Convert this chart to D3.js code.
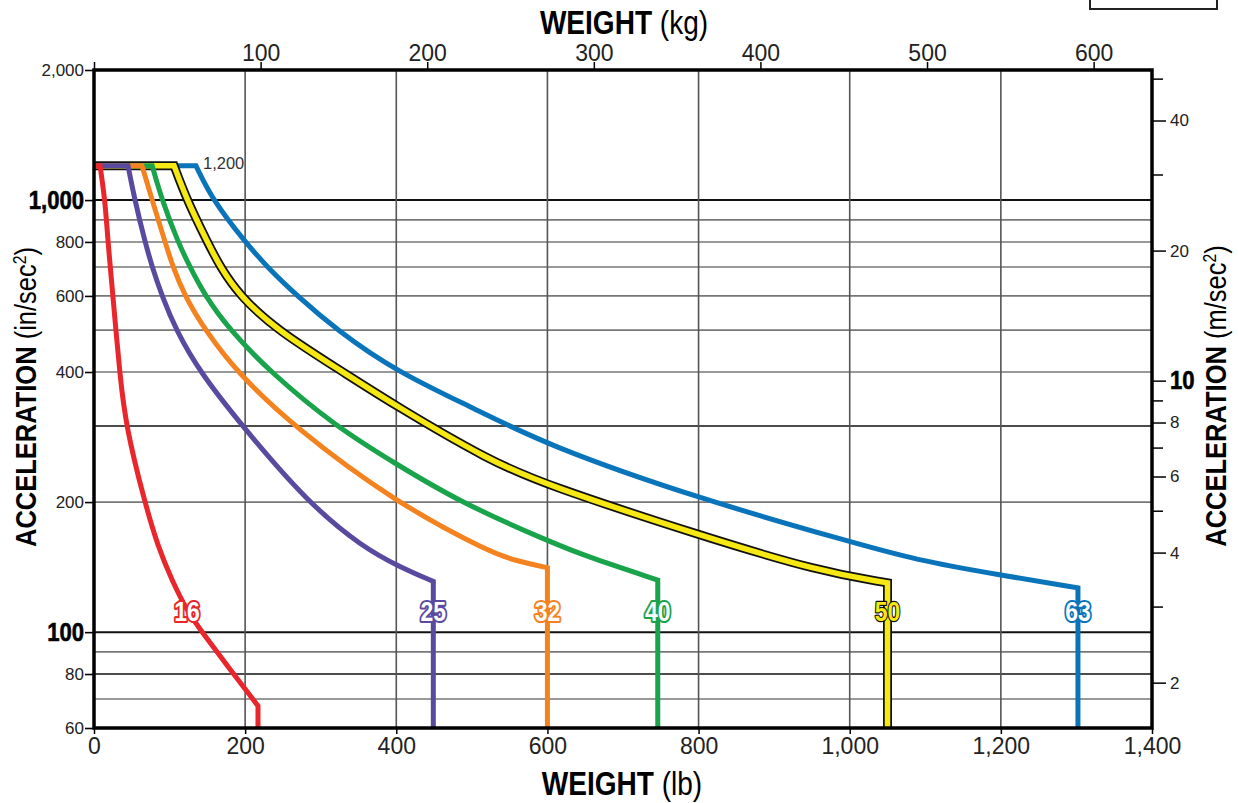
<!DOCTYPE html>
<html>
<head>
<meta charset="utf-8">
<script src="https://cdn.jsdelivr.net/npm/d3@7"></script>
<style>
  html, body { margin: 0; padding: 0; background: #fff; }
  svg { display: block; }
  text { font-family: "Liberation Sans", Arial, Helvetica, sans-serif; }
</style>
</head>
<body>
<svg id="chart" width="1238" height="803"></svg>
<script>
// ---- DATA (weight in lb, acceleration in in/sec^2) ----
const seriesNames = ["16", "25", "32", "40", "50", "63"];
const seriesColors = ["#e8262b", "#5a4a9f", "#f4821f", "#19a34b", "#f6e812", "#0a74bb"];

const curve16 = [[0,1200],[8,1200],[14.6,1000],[18.5,800],[25,600],[29,500],[34,400],[42,300],[67,200],[85,157],[103,132],[123,112],[143,100],[180,82],[217,67.5],[217,60]];
const curve25 = [[0,1200],[45,1200],[54,1000],[67.5,800],[77,700],[90,600],[108.5,500],[140,400],[196,300],[282,200],[356,157],[405,141.5],[449,131],[449,60]];
const curve32 = [[0,1200],[63.5,1200],[77,1000],[94,800],[104.5,700],[120,600],[147,500],[189,400],[263,300],[398,200],[524,153],[560,146],[600,141],[600,60]];
const curve40 = [[0,1200],[77,1200],[90,1000],[111,800],[127,700],[147,600],[180,500],[233,400],[319,300],[398,246],[484,200],[599,163],[650,150],[746,132],[746,60]];
const curve50 = [[0,1200],[106,1200],[123,1000],[150,800],[167,700],[193,600],[242,500],[329.5,400],[398,335],[524,249],[599,219],[799,168],[961,138],[1050,130],[1050,60]];
const curve63 = [[0,1200],[135,1200],[157,1000],[200,800],[229,700],[269,600],[321.5,500],[401,400],[507,327],[599,271],[799,204],[1000,162],[1086,147],[1200,135.5],[1302,126.6],[1302,60]];
const curves = [curve16, curve25, curve32, curve40, curve50, curve63];

const labelWeights = [123, 449, 600, 746, 1050, 1302];
const labelAccel = 112;

const lbTicks = [0, 200, 400, 600, 800, 1000, 1200, 1400];
const kgTicks = [0, 100, 200, 300, 400, 500, 600];
const inTicks = [60, 80, 100, 200, 400, 600, 800, 1000, 2000];
const inBoldTicks = [100, 1000];
const gridAccel = [70, 80, 90, 100, 200, 300, 400, 500, 600, 700, 800, 900, 1000];
const gridDark = [80, 100, 300, 1000];
const msTicks = [2, 3, 4, 5, 6, 7, 8, 9, 10, 20, 30, 40, 50];
const msLabelled = [2, 4, 6, 8, 10, 20, 40];
const msBold = [10];
const capAccel = 1200;
const LB_PER_KG = 2.20462;
const INS2_PER_MS2 = 38.2;

// ---- LAYOUT ----
const L = 94, R = 1152, T = 70, B = 728;
const NARROW = 0.85;
const svg = d3.select("#chart");

const x = d3.scaleLinear().domain([0, 1400]).range([L, R]);
const xKg = d3.scaleLinear().domain([0, 1400 / LB_PER_KG]).range([L, R]);
const y = d3.scaleLog().domain([60, 2000]).range([B, T]);
const yMs = d3.scaleLog().domain([60 / INS2_PER_MS2, 2000 / INS2_PER_MS2]).range([B, T]);

// horizontally condense a text element around its x position
function condense(sel, sx) {
  sel.each(function () {
    const t = d3.select(this);
    const x0 = +t.attr("x") || 0;
    t.attr("x", 0).attr("transform", `translate(${x0},0) scale(${sx},1)`);
  });
}

// grid
const grid = svg.append("g");
grid.selectAll("line.h").data(gridAccel).join("line")
  .attr("x1", L).attr("x2", R)
  .attr("y1", d => y(d)).attr("y2", d => y(d))
  .attr("stroke", d => gridDark.includes(d) ? "#111" : "#777")
  .attr("stroke-width", d => (d === 100 || d === 1000) ? 2 : 1.6);
grid.selectAll("line.v").data(lbTicks.filter(d => d > 0 && d < 1400)).join("line")
  .attr("x1", d => x(d)).attr("x2", d => x(d))
  .attr("y1", T).attr("y2", B)
  .attr("stroke", "#555").attr("stroke-width", 1.6);

// curves: straight cap, smooth decay, vertical drop
const lin = d3.line().x(d => x(d[0])).y(d => y(d[1])).curve(d3.curveLinear);
const smooth = d3.line().x(d => x(d[0])).y(d => y(d[1])).curve(d3.curveBasis);
function pathFor(pts) {
  const n = pts.length;
  const head = lin(pts.slice(0, 2));
  const mid = smooth(pts.slice(1, n - 1)).replace(/^M/, "L");
  const tail = lin(pts.slice(n - 2)).replace(/^M[^L]*/, "");
  return head + mid + tail;
}
const order = [5, 4, 3, 2, 1, 0];
const cg = svg.append("g").attr("fill", "none").attr("stroke-linejoin", "miter").attr("stroke-miterlimit", 10);
order.forEach(i => {
  const dStr = pathFor(curves[i]);
  if (seriesNames[i] === "50") {
    cg.append("path").attr("d", dStr).attr("stroke", "#111").attr("stroke-width", 9);
  }
  cg.append("path").attr("d", dStr).attr("stroke", seriesColors[i]).attr("stroke-width", seriesNames[i] === "50" ? 5.5 : 5);
});

// series labels
const lg = svg.append("g");
seriesNames.forEach((nm, i) => {
  const isY = nm === "50";
  lg.append("text")
    .attr("x", x(labelWeights[i])).attr("y", y(labelAccel) + 10)
    .attr("text-anchor", "middle")
    .attr("font-size", 27).attr("font-weight", "bold")
    .attr("fill", isY ? seriesColors[i] : "#fff")
    .attr("stroke", isY ? "#111" : seriesColors[i])
    .attr("stroke-width", isY ? 2.4 : 4.2)
    .attr("paint-order", "stroke")
    .attr("stroke-linejoin", "round")
    .text(nm)
    .call(condense, NARROW);
});

// cap annotation
svg.append("text")
  .attr("x", 203).attr("y", y(capAccel) + 3)
  .attr("font-size", 16.5).attr("fill", "#333")
  .text(d3.format(",")(capAccel));

// frame
svg.append("rect").attr("x", L).attr("y", T).attr("width", R - L).attr("height", B - T)
  .attr("fill", "none").attr("stroke", "#000").attr("stroke-width", 3.5);

// bottom axis (lb)
const axB = svg.append("g").attr("transform", `translate(0,${B})`)
  .call(d3.axisBottom(x).tickValues(lbTicks).tickFormat(d3.format(",")).tickSize(6).tickPadding(4));
axB.select(".domain").remove();
axB.selectAll("line").attr("stroke", "#000").attr("stroke-width", 1.5);
axB.selectAll("text").attr("font-size", 23).attr("fill", "#222").attr("dy", "0.7em");

// top axis (kg)
const axT = svg.append("g").attr("transform", `translate(0,${T})`)
  .call(d3.axisTop(xKg).tickValues(kgTicks).tickFormat(d => d === 0 ? "" : d).tickSize(8).tickPadding(1));
axT.select(".domain").remove();
axT.selectAll("line").attr("stroke", "#000").attr("stroke-width", 1.5);
axT.selectAll("text").attr("font-size", 23).attr("fill", "#222");

// left axis (in/sec^2)
const axL = svg.append("g").attr("transform", `translate(${L},0)`)
  .call(d3.axisLeft(y).tickValues(inTicks).tickFormat(d3.format(",")).tickSize(9).tickPadding(1));
axL.select(".domain").remove();
axL.selectAll("line").attr("stroke", "#000").attr("stroke-width", 1.6);
axL.selectAll("text")
  .attr("font-size", d => inBoldTicks.includes(d) ? 26 : 17)
  .attr("font-weight", d => inBoldTicks.includes(d) ? "bold" : "normal")
  .attr("fill", d => inBoldTicks.includes(d) ? "#000" : "#222");
axL.selectAll("text").filter(d => inBoldTicks.includes(d))
  .attr("stroke", "#000").attr("stroke-width", 0.6).call(condense, NARROW);

// right axis (m/sec^2)
const axR = svg.append("g").attr("transform", `translate(${R},0)`)
  .call(d3.axisRight(yMs).tickValues(msTicks)
    .tickFormat(d => msLabelled.includes(d) ? d : "").tickSize(12).tickPadding(4));
axR.select(".domain").remove();
axR.selectAll("line").attr("stroke", "#000").attr("stroke-width", 1.5)
  .attr("x2", d => msLabelled.includes(d) ? 14 : 11);
axR.selectAll("text")
  .attr("x", 18)
  .attr("font-size", d => msBold.includes(d) ? 26 : 17)
  .attr("font-weight", d => msBold.includes(d) ? "bold" : "normal")
  .attr("fill", d => msBold.includes(d) ? "#000" : "#222");
axR.selectAll("text").filter(d => msBold.includes(d))
  .attr("stroke", "#000").attr("stroke-width", 0.6).call(condense, NARROW);

// axis titles
function title(tx, ty, rot, size, boldTxt, regTxt, sup, tail) {
  const g = svg.append("g").attr("transform", `translate(${tx},${ty}) rotate(${rot})`);
  const t = g.append("text").attr("text-anchor", "middle").attr("fill", "#000")
    .attr("font-size", size).attr("transform", `scale(${NARROW},1)`);
  t.append("tspan").attr("font-weight", "bold").text(boldTxt);
  t.append("tspan").attr("font-weight", "normal").text(regTxt);
  if (sup) {
    t.append("tspan").attr("font-size", "0.62em").attr("dy", "-0.55em").text(sup);
    t.append("tspan").attr("dy", "0.34em").text(tail);
  }
}
title(624, 34, 0, 33, "WEIGHT", " (kg)");
title(622, 795, 0, 33, "WEIGHT", " (lb)");
title(36, 397, -90, 30, "ACCELERATION", " (in/sec", "2", ")");
title(1226, 396, -90, 30, "ACCELERATION", " (m/sec", "2", ")");

// top-right box
svg.append("rect").attr("x", 1090).attr("y", -6).attr("width", 127).attr("height", 15)
  .attr("fill", "none").attr("stroke", "#222").attr("stroke-width", 2);
</script>
</body>
</html>
